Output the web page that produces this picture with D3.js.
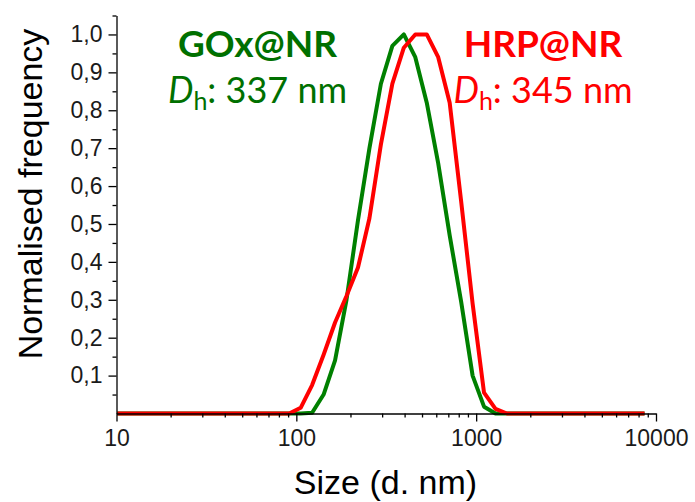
<!DOCTYPE html>
<html>
<head>
<meta charset="utf-8">
<script src="https://cdn.jsdelivr.net/npm/d3@7"></script>
<style>
  body { margin: 0; background: #fff; }
  #canvas svg { display: block; }
</style>
</head>
<body>
<div id="canvas"></div>
<script>
// Tamaños de partícula (d. nm), bins del equipo DLS
const sizes = [10.10, 11.70, 13.54, 15.69, 18.17, 21.04, 24.36, 28.21, 32.67, 37.84,
  43.82, 50.75, 58.77, 68.06, 78.82, 91.28, 105.7, 122.4, 141.8, 164.2,
  190.1, 220.2, 255.0, 295.3, 342.0, 396.1, 458.7, 531.2, 615.1, 712.4,
  825.0, 955.4, 1106, 1281, 1484, 1718, 1990, 2305, 2669, 3091,
  3580, 4145, 4801, 5560, 6439, 7456, 8635];

// Frecuencia normalizada de cada muestra
const goxNR = [0, 0, 0, 0, 0, 0, 0, 0, 0, 0,
  0, 0, 0, 0, 0, 0, 0, 0.002, 0.05, 0.14,
  0.30, 0.51, 0.70, 0.87, 0.97, 1.00, 0.94, 0.82, 0.66, 0.47,
  0.295, 0.10, 0.018, 0, 0, 0, 0, 0, 0, 0,
  0, 0, 0, 0, 0, 0, 0];
const hrpNR = [0, 0, 0, 0, 0, 0, 0, 0, 0, 0,
  0, 0, 0, 0, 0, 0, 0.015, 0.075, 0.155, 0.24,
  0.31, 0.385, 0.515, 0.71, 0.87, 0.965, 1.00, 1.00, 0.94, 0.82,
  0.56, 0.29, 0.055, 0.012, 0, 0, 0, 0, 0, 0,
  0, 0, 0, 0, 0, 0, 0];

// Ticks
const xTicks = [10, 100, 1000, 10000];
const xMinor = [20, 30, 40, 50, 60, 70, 80, 90, 200, 300, 400, 500, 600, 700, 800, 900,
  2000, 3000, 4000, 5000, 6000, 7000, 8000, 9000];
const yTicks = [0.1, 0.2, 0.3, 0.4, 0.5, 0.6, 0.7, 0.8, 0.9, 1.0];
const yMinor = [0.05, 0.15, 0.25, 0.35, 0.45, 0.55, 0.65, 0.75, 0.85, 0.95, 1.05];

const width = 695;
const height = 502;
const green = "#008000";
const red = "#ff0000";

const svg = d3.select("#canvas").append("svg")
  .attr("width", width)
  .attr("height", height);

const x = d3.scaleLog().domain([10, 10000]).range([116.5, 656]);
const y = d3.scaleLinear().domain([0, 1.05]).range([413.5, 15.5]);

// Curvas
const line = d3.line()
  .x((d, i) => x(sizes[i]))
  .y(d => y(d));

svg.append("path")
  .datum(goxNR)
  .attr("d", line)
  .attr("fill", "none")
  .attr("stroke", green)
  .attr("stroke-width", 4)
  .attr("stroke-linejoin", "round");

svg.append("path")
  .datum(hrpNR)
  .attr("d", line)
  .attr("fill", "none")
  .attr("stroke", red)
  .attr("stroke-width", 4)
  .attr("stroke-linejoin", "round");

// Ejes
const tickFont = "'Liberation Sans', Arial, sans-serif";

svg.append("g")
  .attr("transform", `translate(0, ${y(0)})`)
  .call(d3.axisBottom(x).tickValues(xTicks).tickFormat(d3.format("d"))
    .tickSize(8).tickSizeOuter(0).tickPadding(8));
svg.append("g")
  .attr("transform", `translate(0, ${y(0)})`)
  .call(d3.axisBottom(x).tickValues(xMinor).tickFormat("").tickSize(4).tickSizeOuter(0))
  .select(".domain").remove();

svg.append("g")
  .attr("transform", `translate(${x(10)}, 0)`)
  .call(d3.axisLeft(y).tickValues(yTicks).tickFormat(d => d3.format(".1f")(d).replace(".", ","))
    .tickSize(8).tickSizeOuter(0).tickPadding(6));
svg.append("g")
  .attr("transform", `translate(${x(10)}, 0)`)
  .call(d3.axisLeft(y).tickValues(yMinor).tickFormat("").tickSize(4).tickSizeOuter(0))
  .select(".domain").remove();

svg.selectAll(".domain, .tick line")
  .attr("stroke", "#000")
  .attr("stroke-width", 1.3);

svg.selectAll(".tick text")
  .attr("fill", "#1a1a1a")
  .style("font-family", tickFont)
  .style("font-size", "23px");

// Titulos de los ejes
svg.append("text")
  .attr("x", 385.5)
  .attr("y", 494)
  .attr("text-anchor", "middle")
  .style("font-family", tickFont)
  .style("font-size", "34px")
  .attr("fill", "#000")
  .text("Size (d. nm)");

svg.append("text")
  .attr("transform", "translate(42, 194) rotate(-90)")
  .attr("text-anchor", "middle")
  .style("font-family", tickFont)
  .style("font-size", "34px")
  .attr("fill", "#000")
  .text("Normalised frequency");

// Etiquetas de las muestras
const labelFont = "Lato, 'Open Sans', sans-serif";

function sampleLabel(name, dh, cx, color) {
  svg.append("text")
    .attr("x", cx)
    .attr("y", 56.5)
    .attr("text-anchor", "middle")
    .style("font-family", labelFont)
    .style("font-weight", "bold")
    .style("font-size", "37px")
    .attr("fill", color)
    .text(name);

  const t = svg.append("text")
    .attr("x", cx)
    .attr("y", 103)
    .attr("text-anchor", "middle")
    .style("font-family", labelFont)
    .style("font-size", "36px")
    .attr("fill", color);
  t.append("tspan").style("font-style", "italic").text("D");
  t.append("tspan").attr("dy", 7).style("font-size", "25px").text("h");
  t.append("tspan").attr("dy", -7).text(`: ${dh} nm`);
}

sampleLabel("GOx@NR", 337, 257.5, "#007000");
sampleLabel("HRP@NR", 345, 543, red);
</script>
</body>
</html>
